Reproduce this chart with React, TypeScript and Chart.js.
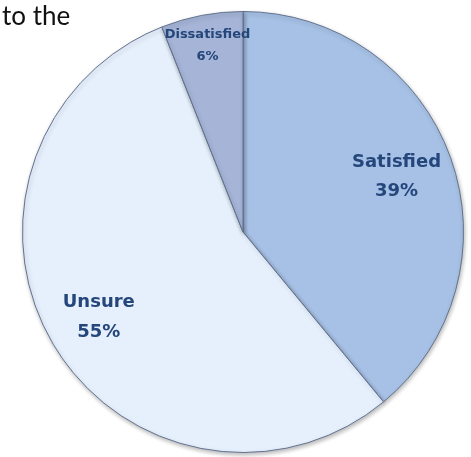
import React, { useEffect, useRef } from "react";
import { Chart, registerables } from "chart.js";

Chart.register(...registerables);

const categories = ["Satisfied", "Unsure", "Dissatisfied"];
const values = [39, 55, 6];
const percentLabels = ["39%", "55%", "6%"];

const sliceColors = ["#a6c1e5", "#e6f0fc", "#a5b4d7"];
const labelRadius = [0.74, 0.76, 0.86];
const labelFont = [18, 18, 13];
const lineGap = [29, 30, 22];

const labelPlugin = {
  id: "sliceLabels",
  afterDatasetsDraw(chart: any) {
    const ctx = chart.ctx;
    const meta = chart.getDatasetMeta(0);
    meta.data.forEach((arc: any, i: number) => {
      const { x, y, startAngle, endAngle, outerRadius } = arc.getProps(
        ["x", "y", "startAngle", "endAngle", "outerRadius"],
        true
      );
      const mid = (startAngle + endAngle) / 2;
      const r = outerRadius * labelRadius[i];
      const cx = x + Math.cos(mid) * r;
      const cy = y + Math.sin(mid) * r;
      ctx.save();
      ctx.fillStyle = "#24467a";
      ctx.textAlign = "center";
      ctx.textBaseline = "middle";
      ctx.font = `bold ${labelFont[i]}px "DejaVu Sans", sans-serif`;
      ctx.fillText(categories[i], cx, cy - lineGap[i] / 2);
      ctx.fillText(percentLabels[i], cx, cy + lineGap[i] / 2);
      ctx.restore();
    });
  },
};

const shadowPlugin = {
  id: "pieShadow",
  beforeDatasetsDraw(chart: any) {
    const ctx = chart.ctx;
    ctx.save();
    ctx.shadowColor = "rgba(0,0,0,0.28)";
    ctx.shadowBlur = 4;
    ctx.shadowOffsetX = 1;
    ctx.shadowOffsetY = 2;
  },
  afterDatasetsDraw(chart: any) {
    chart.ctx.restore();
  },
};

export default function App() {
  const ref = useRef<HTMLCanvasElement>(null);
  useEffect(() => {
    if (!ref.current) return;
    const chart = new Chart(ref.current, {
      type: "pie",
      data: {
        labels: categories,
        datasets: [
          {
            data: values,
            backgroundColor: sliceColors,
            borderColor: "#62728f",
            borderWidth: 1,
          },
        ],
      },
      options: {
        responsive: false,
        animation: false,
        layout: { padding: { left: 22, right: 7, top: 11, bottom: 4 } },
        plugins: {
          legend: { display: false },
          tooltip: { enabled: false },
        },
      },
      plugins: [shadowPlugin, labelPlugin],
    });
    return () => chart.destroy();
  }, []);
  return (
    <div style={{ position: "fixed", left: 0, top: 0, width: 471, height: 457, background: "#fff" }}>
      <div
        style={{
          position: "absolute",
          left: 2,
          top: 2,
          fontFamily: 'Lato, sans-serif',
          fontSize: 26,
          lineHeight: "26px",
          color: "#111",
        }}
      >
        to the
      </div>
      <canvas ref={ref} width={471} height={457} style={{ position: "absolute", left: 0, top: 0 }} />
    </div>
  );
}
